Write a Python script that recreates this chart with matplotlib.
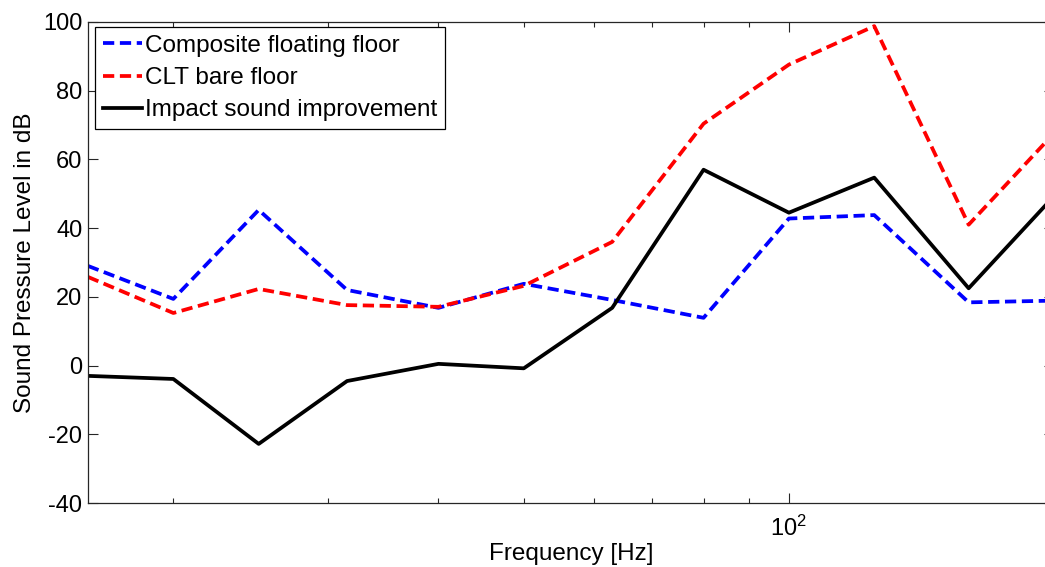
import matplotlib
matplotlib.use("Agg")
import matplotlib.pyplot as plt
from matplotlib.ticker import LogLocator, LogFormatterMathtext, NullFormatter, MultipleLocator

# One-third octave band centre frequencies [Hz]
freq = [16, 20, 25, 31.5, 40, 50, 63, 80, 100, 125, 160, 200]

# Sound pressure levels [dB]
composite_floor = [29.0, 19.4, 45.3, 22.0, 16.8, 23.8, 19.1, 13.9, 42.8, 43.8, 18.4, 18.9]
clt_bare_floor = [25.8, 15.3, 22.3, 17.6, 17.1, 23.2, 36.0, 70.4, 87.6, 98.8, 41.0, 67.6]
improvement = [-3.0, -3.9, -22.8, -4.5, 0.5, -0.8, 16.8, 57.0, 44.5, 54.7, 22.5, 49.3]

plt.rcParams["font.family"] = ["Liberation Sans", "DejaVu Sans"]
plt.rcParams["axes.unicode_minus"] = False

W, H = 1045, 567
fig = plt.figure(figsize=(W / 100, H / 100), dpi=100)
# the axes run slightly past the right edge of the canvas
ax = fig.add_axes([88 / W, 64 / H, (1054 - 88) / W, 481 / H])

dash = (0, (3.0, 1.5))
ax.plot(freq, composite_floor, color="#0000ff", lw=2.7, ls=dash, label="Composite floating floor")
ax.plot(freq, clt_bare_floor, color="#ff0000", lw=2.7, ls=dash, label="CLT bare floor")
ax.plot(freq, improvement, color="black", lw=2.7, ls="-", label="Impact sound improvement")

ax.set_xscale("log")
ax.set_xlim(16, 200)
ax.set_ylim(-40, 100)
ax.yaxis.set_major_locator(MultipleLocator(20))
ax.xaxis.set_major_locator(LogLocator(base=10))
ax.xaxis.set_major_formatter(LogFormatterMathtext())
ax.xaxis.set_minor_locator(LogLocator(base=10, subs=range(2, 10)))
ax.xaxis.set_minor_formatter(NullFormatter())

ax.tick_params(which="both", direction="in", top=True, right=True,
               labelsize=17, colors="#262626", labelcolor="black", pad=4)
ax.tick_params(axis="x", which="both", pad=9)
ax.tick_params(which="major", length=7, width=0.8)
ax.tick_params(which="minor", length=3.6, width=0.8)
for sp in ax.spines.values():
    sp.set_color("#262626")
    sp.set_linewidth(0.9)

ax.set_xlabel("Frequency [Hz]", fontsize=17.5, labelpad=2)
ax.set_ylabel("Sound Pressure Level in dB", fontsize=17.5, labelpad=5)

leg = ax.legend(loc="upper left", bbox_to_anchor=(95 / W, 1 - 27 / H),
                bbox_transform=fig.transFigure, fontsize=17.5, fancybox=False,
                framealpha=1, edgecolor="black", handlelength=1.6,
                handletextpad=0.15, borderpad=0.32, labelspacing=0.42,
                borderaxespad=0)
leg.get_frame().set_linewidth(0.9)

fig.savefig("out.png", dpi=100)
